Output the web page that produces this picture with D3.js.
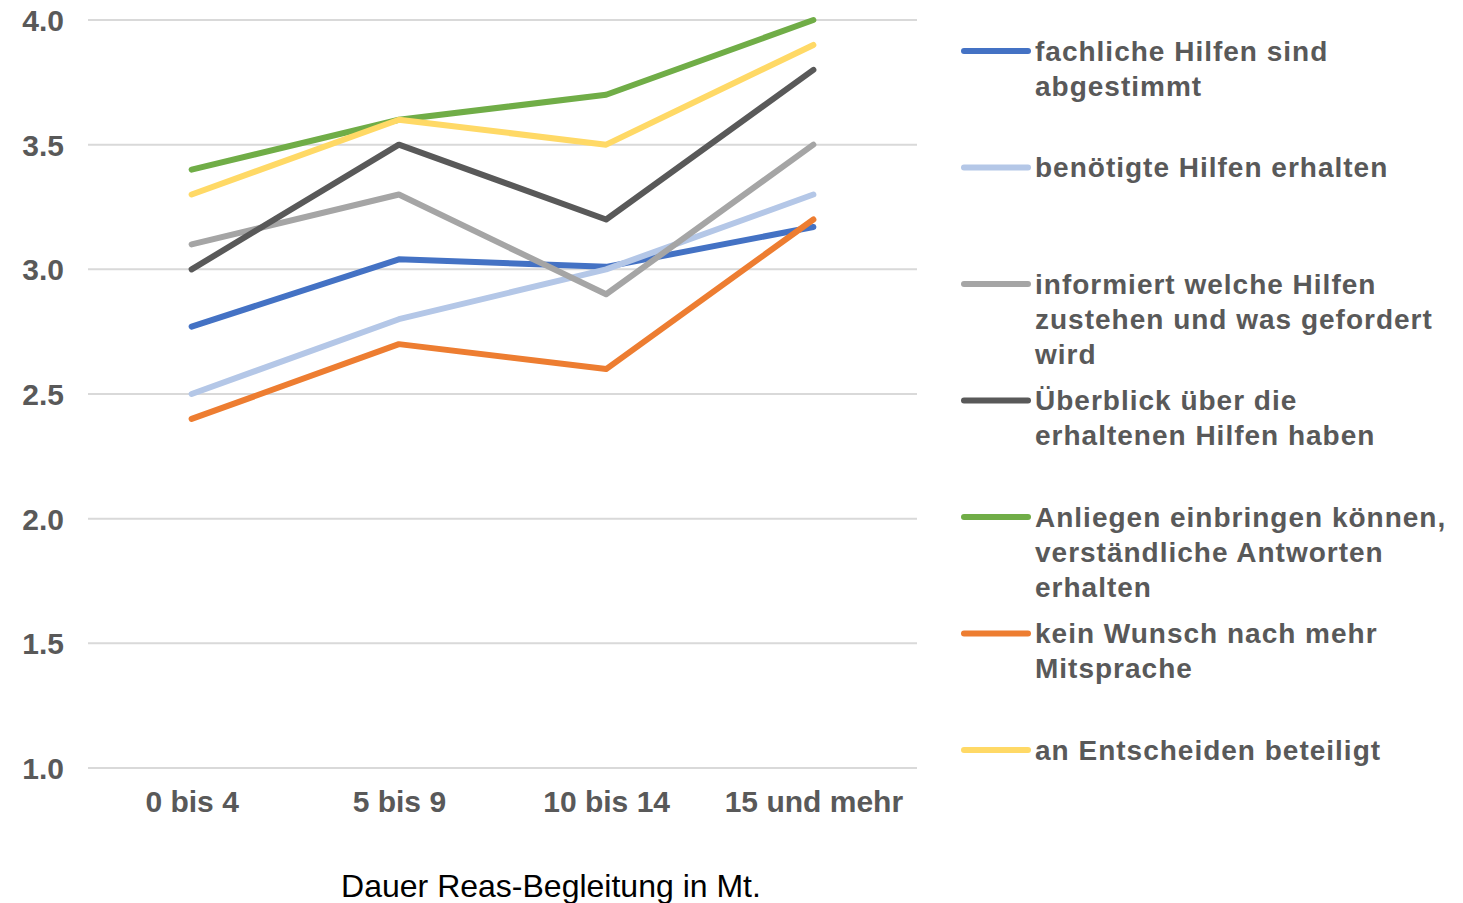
<!DOCTYPE html>
<html>
<head>
<meta charset="utf-8">
<script src="https://cdn.jsdelivr.net/npm/d3@7"></script>
<style>
  html, body { margin: 0; padding: 0; background: #ffffff; }
  svg { display: block; }
</style>
</head>
<body>
<svg id="chart" width="1463" height="903"></svg>
<script>
// Categories: duration of support in months
const categories = ["0 bis 4", "5 bis 9", "10 bis 14", "15 und mehr"];

// Series names (legend labels, pre-wrapped)
const seriesNames = [
  ["fachliche Hilfen sind", "abgestimmt"],
  ["benötigte Hilfen erhalten"],
  ["informiert welche Hilfen", "zustehen und was gefordert", "wird"],
  ["Überblick über die", "erhaltenen Hilfen haben"],
  ["Anliegen einbringen können,", "verständliche Antworten", "erhalten"],
  ["kein Wunsch nach mehr", "Mitsprache"],
  ["an Entscheiden beteiligt"]
];

// Mean ratings per series
const fachlicheHilfen   = [2.77, 3.04, 3.01, 3.17];
const benoetigteHilfen  = [2.50, 2.80, 3.00, 3.30];
const informiert        = [3.10, 3.30, 2.90, 3.50];
const ueberblick        = [3.00, 3.50, 3.20, 3.80];
const anliegen          = [3.40, 3.60, 3.70, 4.00];
const keinWunsch        = [2.40, 2.70, 2.60, 3.20];
const entscheiden       = [3.30, 3.60, 3.50, 3.90];

const seriesValues = [fachlicheHilfen, benoetigteHilfen, informiert, ueberblick, anliegen, keinWunsch, entscheiden];
const seriesColors = ["#4472C4", "#B4C7E7", "#A5A5A5", "#595959", "#70AD47", "#ED7D31", "#FFD966"];

// Y axis ticks
const yTicks = [1.0, 1.5, 2.0, 2.5, 3.0, 3.5, 4.0];

const svg = d3.select("#chart");
const plot = { left: 88, right: 917, top: 20, bottom: 768 };

const x = d3.scalePoint()
  .domain(categories)
  .range([plot.left, plot.right])
  .padding(0.5);

const y = d3.scaleLinear()
  .domain([1, 4])
  .range([plot.bottom, plot.top]);

// Horizontal gridlines
svg.append("g")
  .selectAll("line")
  .data(yTicks)
  .join("line")
  .attr("x1", plot.left)
  .attr("x2", plot.right)
  .attr("y1", d => y(d))
  .attr("y2", d => y(d))
  .attr("stroke", "#d9d9d9")
  .attr("stroke-width", 2);

// Y axis labels
const yAxis = svg.append("g")
  .attr("transform", `translate(${plot.left - 24},0)`)
  .call(d3.axisLeft(y).tickValues(yTicks).tickFormat(d3.format(".1f")).tickSize(0).tickPadding(0));
yAxis.select(".domain").remove();
yAxis.selectAll("text")
  .attr("font-family", "'Liberation Sans', Arial, sans-serif")
  .attr("font-weight", "bold")
  .attr("font-size", 30)
  .attr("fill", "#595959")
  .attr("dy", "0.35em");

// X axis labels
const xAxis = svg.append("g")
  .attr("transform", `translate(0,${plot.bottom + 23})`)
  .call(d3.axisBottom(x).tickSize(0).tickPadding(0));
xAxis.select(".domain").remove();
xAxis.selectAll("text")
  .attr("font-family", "'Liberation Sans', Arial, sans-serif")
  .attr("font-weight", "bold")
  .attr("font-size", 30)
  .attr("fill", "#595959")
  .attr("dy", "0.71em");

// Axis title
svg.append("text")
  .attr("x", 551)
  .attr("y", 897)
  .attr("text-anchor", "middle")
  .attr("font-family", "'Liberation Sans', Arial, sans-serif")
  .attr("font-size", 32)
  .attr("fill", "#000000")
  .text("Dauer Reas-Begleitung in Mt.");

// Lines
const line = d3.line()
  .x((d, i) => x(categories[i]))
  .y(d => y(d));

svg.append("g")
  .selectAll("path")
  .data(seriesValues)
  .join("path")
  .attr("d", d => line(d))
  .attr("fill", "none")
  .attr("stroke", (d, i) => seriesColors[i])
  .attr("stroke-width", 6)
  .attr("stroke-linejoin", "round")
  .attr("stroke-linecap", "round");

// Legend
const legendTop = 51;
const legendStep = 116.5;
const legend = svg.append("g");
seriesNames.forEach((lines, i) => {
  const g = legend.append("g").attr("transform", `translate(0,${legendTop + i * legendStep})`);
  g.append("line")
    .attr("x1", 964).attr("x2", 1028)
    .attr("y1", 0).attr("y2", 0)
    .attr("stroke", seriesColors[i])
    .attr("stroke-width", 6)
    .attr("stroke-linecap", "round");
  const t = g.append("text")
    .attr("x", 1035)
    .attr("y", 0)
    .attr("font-family", "'Liberation Sans', Arial, sans-serif")
    .attr("font-weight", "bold")
    .attr("font-size", 28)
    .attr("letter-spacing", 1.0)
    .attr("fill", "#595959");
  lines.forEach((s, j) => {
    t.append("tspan")
      .attr("x", 1035)
      .attr("y", j * 35)
      .attr("dy", "0.35em")
      .text(s);
  });
});
</script>
</body>
</html>
